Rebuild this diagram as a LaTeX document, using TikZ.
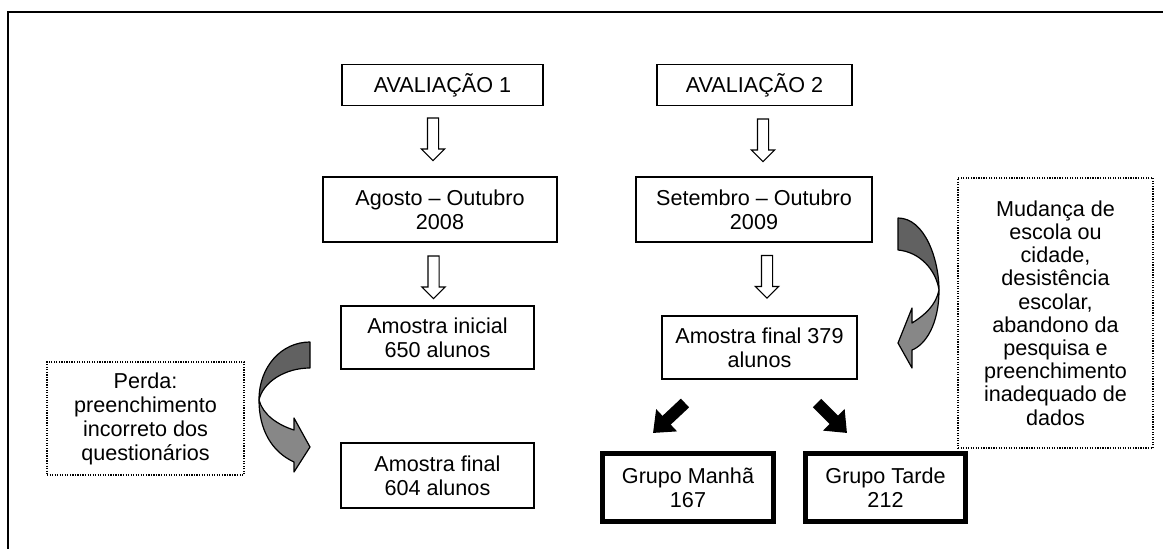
\documentclass[tikz,border=0pt]{standalone}
\usepackage{fontspec}
\setmainfont{Liberation Sans}
\usetikzlibrary{shapes.arrows,arrows.meta}

\definecolor{folddark}{gray}{0.38}
\definecolor{foldlight}{gray}{0.53}

\tikzset{
  box/.style={draw, line width=1.2pt, align=center, inner sep=0pt},
  heavybox/.style={draw, line width=3.75pt, align=center, inner sep=0pt},
  notebox/.style={draw, densely dotted, line width=0.9pt, align=center, inner sep=0pt},
  hollow/.style={draw, line width=0.9pt, single arrow, shape border rotate=270,
    minimum height=32pt, minimum width=16.5pt, single arrow head extend=4.5pt,
    single arrow tip angle=90, inner sep=3.75pt},
  blockarr/.style={line width=9pt, -{Triangle[length=14pt, width=22pt]}},
  fold/.style={draw, line width=0.9pt, line join=round}
}

\begin{document}
\begin{tikzpicture}[x=0.75pt, y=-0.75pt, every node/.style={font=\fontsize{16.2}{18}\selectfont}]
  \useasboundingbox (0,0) rectangle (1163,549);
  \draw[line width=1.5pt] (8,549) -- (8,12) -- (1163,12);

  % left column
  \node[box, minimum width=150.75pt, minimum height=31pt] (av1) at (442.5,85) {AVALIAÇÃO 1};
  \node[box, minimum width=175.5pt, minimum height=48.75pt] (ago) at (440,209.5) {Agosto -- Outubro\\2008};
  \node[box, minimum width=144.75pt, minimum height=47.25pt] (ini) at (437.5,337.5) {Amostra inicial\\650 alunos};
  \node[box, minimum width=144.75pt, minimum height=48.75pt] (fin1) at (437.5,475.5) {Amostra final\\604 alunos};

  % right column
  \node[box, minimum width=146.25pt, minimum height=31pt] (av2) at (754.5,85) {AVALIAÇÃO 2};
  \node[box, minimum width=177pt, minimum height=48.75pt] (set) at (754,209.5) {Setembro -- Outubro\\2009};
  \node[box, minimum width=146.25pt, minimum height=47.25pt] (fin2) at (759.5,347.5) {Amostra final 379\\alunos};
  \node[heavybox, minimum width=128.25pt, minimum height=51pt] (manha) at (688,487.5) {Grupo Manhã\\167};
  \node[heavybox, minimum width=120pt, minimum height=51pt] (tarde) at (885.5,487.5) {Grupo Tarde\\212};

  % losses
  \node[notebox, minimum width=147.75pt, minimum height=84.75pt] (perda) at (145.5,418.5)
    {Perda:\\preenchimento\\incorreto dos\\questionários};
  \node[notebox, minimum width=146.25pt, minimum height=202.5pt, font=\fontsize{16.2}{17.4}\selectfont] (mudanca) at (1055.5,313)
    {Mudança de\\escola ou\\cidade,\\desistência\\escolar,\\abandono da\\pesquisa e\\preenchimento\\inadequado de\\dados};

  % hollow arrows
  \node[hollow] (h1) at (433,136.5) {};
  \node[hollow] (h2) at (433.5,274.5) {};
  \node[hollow] (h3) at (763,137.5) {};
  \node[hollow] (h4) at (767,274) {};

  % split arrows
  \coordinate (ml) at (685,403);
  \coordinate (mt) at (653,433);
  \coordinate (tl) at (817,403);
  \coordinate (tt) at (847,433);
  \draw[blockarr] (ml) -- (mt);
  \draw[blockarr] (tl) -- (tt);

  % curved arrows
  \filldraw[fold, fill=folddark] (310,342) -- (310,368) .. controls (285,368) and (263,382) .. (259,400)
    .. controls (259,366) and (282,342) .. cycle;
  \filldraw[fold, fill=foldlight] (259,400) .. controls (259,430) and (272,452) .. (294,462)
    -- (294,472) -- (310,447) -- (294,418) -- (294,430) .. controls (278,425) and (263,415) .. cycle;
  \filldraw[fold, fill=folddark] (898,218) .. controls (925,218) and (939,260) .. (939,290)
    .. controls (936,270) and (920,252) .. (898,250) -- cycle;
  \filldraw[fold, fill=foldlight] (939,290) .. controls (939,325) and (925,345) .. (912,350)
    -- (912,368) -- (898,343) -- (912,308) -- (912,323) .. controls (925,315) and (936,305) .. cycle;
\end{tikzpicture}
\end{document}
